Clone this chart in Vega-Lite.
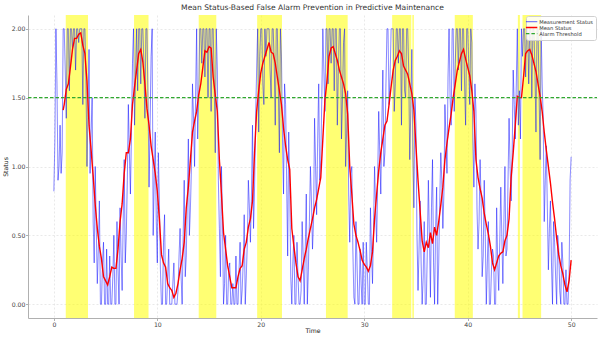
{
"$schema":"https://vega.github.io/schema/vega-lite/v6.json",
"width":569,"height":303,
"autosize":{"type":"none"},
"padding":{"left":28,"top":15,"right":4,"bottom":23},
"background":"white",
"title":{"text":"Mean Status-Based False Alarm Prevention in Predictive Maintenance","fontSize":7.6,"fontWeight":"normal","color":"#333333","offset":3,"anchor":"middle","font":"DejaVu Sans"},
"config":{"font":"DejaVu Sans","view":{"stroke":null},
 "axis":{"domainColor":"#b0b0b0","tickColor":"#b0b0b0","tickSize":2.5,"labelFontSize":6.2,"labelColor":"#444444","titleFontSize":6.2,"titleFontWeight":"normal","titleColor":"#222222","gridColor":"#e0e0e0","gridDash":[2,2],"gridWidth":0.7,"labelPadding":0.5},
 "legend":{"orient":"top-right","offset":1,"labelFontSize":5.2,"labelColor":"#333333","fillColor":"rgba(255,255,255,0.85)","strokeColor":"#d0d0d0","padding":3,"cornerRadius":2,"symbolSize":130,"rowPadding":-4,"labelOffset":5,"symbolType":"stroke",
  "symbolOpacity":{"expr":"datum.value == 'Measurement Status' ? 0.5 : 1"},
  "symbolStrokeWidth":{"expr":"datum.value == 'Mean Status' ? 1.5 : 1.1"}}},
"datasets":{
"sp":[{"a":1.15,"b":3.3},{"a":7.75,"b":9.15},{"a":14.0,"b":15.7},{"a":19.65,"b":22.05},{"a":26.3,"b":28.4},{"a":32.7,"b":34.55},{"a":34.65,"b":34.8},{"a":38.75,"b":40.5},{"a":44.85,"b":45.05},{"a":45.3,"b":47.1}],
"th":[{"t":-2.5,"v":1.5},{"t":52.5,"v":1.5}],
"m":[{"t":0.0,"v":0.82},{"t":0.1,"v":1.2},{"t":0.2,"v":2.0},{"t":0.3,"v":1.6},{"t":0.4,"v":0.9},{"t":0.5,"v":1.0},{"t":0.6,"v":1.3},{"t":0.7,"v":0.95},{"t":0.8,"v":1.1},{"t":0.9,"v":2.0},
{"t":1.0,"v":2.0},{"t":1.1,"v":1.7},{"t":1.2,"v":1.35},{"t":1.3,"v":2.0},{"t":1.4,"v":2.0},{"t":1.5,"v":1.55},{"t":1.6,"v":2.0},{"t":1.7,"v":2.0},{"t":1.8,"v":1.85},{"t":1.9,"v":2.0},
{"t":2.0,"v":2.0},{"t":2.1,"v":1.7},{"t":2.2,"v":2.0},{"t":2.3,"v":2.0},{"t":2.4,"v":1.9},{"t":2.5,"v":2.0},{"t":2.6,"v":2.0},{"t":2.7,"v":2.0},{"t":2.8,"v":1.45},{"t":2.9,"v":2.0},
{"t":3.0,"v":2.0},{"t":3.1,"v":1.65},{"t":3.2,"v":1.0},{"t":3.3,"v":1.4},{"t":3.4,"v":1.85},{"t":3.5,"v":0.95},{"t":3.6,"v":1.25},{"t":3.7,"v":1.5},{"t":3.8,"v":0.6},{"t":3.9,"v":0.3},
{"t":4.0,"v":1.0},{"t":4.1,"v":0.55},{"t":4.2,"v":0.15},{"t":4.3,"v":0.4},{"t":4.4,"v":0.75},{"t":4.5,"v":0.0},{"t":4.6,"v":0.0},{"t":4.7,"v":0.3},{"t":4.8,"v":0.45},{"t":4.9,"v":0.0},
{"t":5.0,"v":0.0},{"t":5.1,"v":0.4},{"t":5.2,"v":0.0},{"t":5.3,"v":0.0},{"t":5.4,"v":0.35},{"t":5.5,"v":0.0},{"t":5.6,"v":0.0},{"t":5.7,"v":0.2},{"t":5.8,"v":0.5},{"t":5.9,"v":0.0},
{"t":6.0,"v":0.0},{"t":6.1,"v":0.6},{"t":6.2,"v":0.25},{"t":6.3,"v":0.0},{"t":6.4,"v":0.7},{"t":6.5,"v":0.35},{"t":6.6,"v":0.1},{"t":6.7,"v":0.6},{"t":6.8,"v":1.05},{"t":6.9,"v":0.3},
{"t":7.0,"v":0.5},{"t":7.1,"v":0.9},{"t":7.2,"v":1.45},{"t":7.3,"v":1.1},{"t":7.4,"v":0.8},{"t":7.5,"v":1.25},{"t":7.6,"v":1.75},{"t":7.7,"v":2.0},{"t":7.8,"v":1.3},{"t":7.9,"v":1.7},
{"t":8.0,"v":2.0},{"t":8.1,"v":1.55},{"t":8.2,"v":2.0},{"t":8.3,"v":2.0},{"t":8.4,"v":1.6},{"t":8.5,"v":2.0},{"t":8.6,"v":2.0},{"t":8.7,"v":1.75},{"t":8.8,"v":1.35},{"t":8.9,"v":2.0},
{"t":9.0,"v":2.0},{"t":9.1,"v":1.5},{"t":9.2,"v":0.85},{"t":9.3,"v":1.3},{"t":9.4,"v":1.8},{"t":9.5,"v":2.0},{"t":9.6,"v":0.5},{"t":9.7,"v":0.9},{"t":9.8,"v":1.25},{"t":9.9,"v":0.6},
{"t":10.0,"v":0.3},{"t":10.1,"v":1.1},{"t":10.2,"v":0.75},{"t":10.3,"v":0.25},{"t":10.4,"v":0.0},{"t":10.5,"v":0.0},{"t":10.6,"v":0.45},{"t":10.7,"v":0.65},{"t":10.8,"v":0.0},{"t":10.9,"v":0.0},
{"t":11.0,"v":0.2},{"t":11.1,"v":0.4},{"t":11.2,"v":0.0},{"t":11.3,"v":0.0},{"t":11.4,"v":0.0},{"t":11.5,"v":0.15},{"t":11.6,"v":0.3},{"t":11.7,"v":0.0},{"t":11.8,"v":0.0},{"t":11.9,"v":0.0},
{"t":12.0,"v":0.1},{"t":12.1,"v":0.35},{"t":12.2,"v":0.55},{"t":12.3,"v":0.2},{"t":12.4,"v":0.0},{"t":12.5,"v":0.5},{"t":12.6,"v":0.9},{"t":12.7,"v":0.2},{"t":12.8,"v":0.35},{"t":12.9,"v":0.75},
{"t":13.0,"v":1.2},{"t":13.1,"v":0.5},{"t":13.2,"v":0.7},{"t":13.3,"v":1.0},{"t":13.4,"v":1.6},{"t":13.5,"v":1.35},{"t":13.6,"v":1.0},{"t":13.7,"v":1.5},{"t":13.8,"v":2.0},{"t":13.9,"v":1.2},
{"t":14.0,"v":1.5},{"t":14.1,"v":2.0},{"t":14.2,"v":2.0},{"t":14.3,"v":1.75},{"t":14.4,"v":2.0},{"t":14.5,"v":2.0},{"t":14.6,"v":1.65},{"t":14.7,"v":2.0},{"t":14.8,"v":2.0},{"t":14.9,"v":1.5},
{"t":15.0,"v":2.0},{"t":15.1,"v":2.0},{"t":15.2,"v":1.4},{"t":15.3,"v":2.0},{"t":15.4,"v":2.0},{"t":15.5,"v":1.6},{"t":15.6,"v":1.1},{"t":15.7,"v":2.0},{"t":15.8,"v":1.7},{"t":15.9,"v":0.9},
{"t":16.0,"v":0.55},{"t":16.1,"v":0.2},{"t":16.2,"v":1.0},{"t":16.3,"v":0.6},{"t":16.4,"v":0.0},{"t":16.5,"v":0.15},{"t":16.6,"v":0.5},{"t":16.7,"v":0.0},{"t":16.8,"v":0.0},{"t":16.9,"v":0.25},
{"t":17.0,"v":0.3},{"t":17.1,"v":0.0},{"t":17.2,"v":0.0},{"t":17.3,"v":0.15},{"t":17.4,"v":0.0},{"t":17.5,"v":0.0},{"t":17.6,"v":0.35},{"t":17.7,"v":0.0},{"t":17.8,"v":0.0},{"t":17.9,"v":0.25},
{"t":18.0,"v":0.45},{"t":18.1,"v":0.0},{"t":18.2,"v":0.1},{"t":18.3,"v":0.3},{"t":18.4,"v":0.65},{"t":18.5,"v":0.0},{"t":18.6,"v":0.2},{"t":18.7,"v":0.45},{"t":18.8,"v":0.9},{"t":18.9,"v":0.7},
{"t":19.0,"v":0.45},{"t":19.1,"v":0.8},{"t":19.2,"v":1.3},{"t":19.3,"v":0.55},{"t":19.4,"v":0.85},{"t":19.5,"v":1.35},{"t":19.6,"v":1.7},{"t":19.7,"v":2.0},{"t":19.8,"v":1.25},{"t":19.9,"v":1.8},
{"t":20.0,"v":2.0},{"t":20.1,"v":2.0},{"t":20.2,"v":1.6},{"t":20.3,"v":1.45},{"t":20.4,"v":2.0},{"t":20.5,"v":1.8},{"t":20.6,"v":2.0},{"t":20.7,"v":2.0},{"t":20.8,"v":2.0},{"t":20.9,"v":1.7},
{"t":21.0,"v":1.5},{"t":21.1,"v":2.0},{"t":21.2,"v":2.0},{"t":21.3,"v":1.75},{"t":21.4,"v":1.3},{"t":21.5,"v":2.0},{"t":21.6,"v":2.0},{"t":21.7,"v":1.55},{"t":21.8,"v":1.1},{"t":21.9,"v":2.0},
{"t":22.0,"v":1.8},{"t":22.1,"v":1.2},{"t":22.2,"v":0.8},{"t":22.3,"v":1.6},{"t":22.4,"v":1.45},{"t":22.5,"v":0.9},{"t":22.6,"v":0.35},{"t":22.7,"v":1.25},{"t":22.8,"v":0.85},{"t":22.9,"v":0.2},
{"t":23.0,"v":0.0},{"t":23.1,"v":0.3},{"t":23.2,"v":0.5},{"t":23.3,"v":0.0},{"t":23.4,"v":0.0},{"t":23.5,"v":0.45},{"t":23.6,"v":0.2},{"t":23.7,"v":0.0},{"t":23.8,"v":0.0},{"t":23.9,"v":0.1},
{"t":24.0,"v":0.6},{"t":24.1,"v":0.35},{"t":24.2,"v":0.0},{"t":24.3,"v":0.4},{"t":24.4,"v":0.8},{"t":24.5,"v":0.0},{"t":24.6,"v":0.25},{"t":24.7,"v":0.6},{"t":24.8,"v":1.0},{"t":24.9,"v":0.75},
{"t":25.0,"v":0.4},{"t":25.1,"v":0.6},{"t":25.2,"v":1.35},{"t":25.3,"v":1.0},{"t":25.4,"v":0.65},{"t":25.5,"v":1.2},{"t":25.6,"v":1.6},{"t":25.7,"v":0.9},{"t":25.8,"v":1.05},{"t":25.9,"v":1.5},
{"t":26.0,"v":2.0},{"t":26.1,"v":1.7},{"t":26.2,"v":1.4},{"t":26.3,"v":2.0},{"t":26.4,"v":2.0},{"t":26.5,"v":1.6},{"t":26.6,"v":2.0},{"t":26.7,"v":2.0},{"t":26.8,"v":1.75},{"t":26.9,"v":2.0},
{"t":27.0,"v":2.0},{"t":27.1,"v":1.55},{"t":27.2,"v":2.0},{"t":27.3,"v":2.0},{"t":27.4,"v":1.3},{"t":27.5,"v":1.7},{"t":27.6,"v":2.0},{"t":27.7,"v":2.0},{"t":27.8,"v":1.2},{"t":27.9,"v":1.5},
{"t":28.0,"v":1.9},{"t":28.1,"v":2.0},{"t":28.2,"v":1.0},{"t":28.3,"v":1.25},{"t":28.4,"v":1.55},{"t":28.5,"v":0.8},{"t":28.6,"v":0.45},{"t":28.7,"v":0.95},{"t":28.8,"v":1.0},{"t":28.9,"v":0.4},
{"t":29.0,"v":0.05},{"t":29.1,"v":0.0},{"t":29.2,"v":0.6},{"t":29.3,"v":0.3},{"t":29.4,"v":0.0},{"t":29.5,"v":0.0},{"t":29.6,"v":0.4},{"t":29.7,"v":0.15},{"t":29.8,"v":0.0},{"t":29.9,"v":0.45},
{"t":30.0,"v":0.0},{"t":30.1,"v":0.0},{"t":30.2,"v":0.45},{"t":30.3,"v":0.25},{"t":30.4,"v":0.0},{"t":30.5,"v":0.0},{"t":30.6,"v":0.7},{"t":30.7,"v":0.4},{"t":30.8,"v":0.15},{"t":30.9,"v":0.55},
{"t":31.0,"v":1.0},{"t":31.1,"v":0.7},{"t":31.2,"v":0.45},{"t":31.3,"v":0.9},{"t":31.4,"v":1.4},{"t":31.5,"v":1.1},{"t":31.6,"v":0.8},{"t":31.7,"v":1.3},{"t":31.8,"v":1.7},{"t":31.9,"v":1.0},
{"t":32.0,"v":1.1},{"t":32.1,"v":1.6},{"t":32.2,"v":2.0},{"t":32.3,"v":2.0},{"t":32.4,"v":1.45},{"t":32.5,"v":1.65},{"t":32.6,"v":2.0},{"t":32.7,"v":2.0},{"t":32.8,"v":2.0},{"t":32.9,"v":1.4},
{"t":33.0,"v":1.6},{"t":33.1,"v":2.0},{"t":33.2,"v":2.0},{"t":33.3,"v":1.75},{"t":33.4,"v":2.0},{"t":33.5,"v":2.0},{"t":33.6,"v":1.3},{"t":33.7,"v":2.0},{"t":33.8,"v":2.0},{"t":33.9,"v":1.55},
{"t":34.0,"v":1.5},{"t":34.1,"v":2.0},{"t":34.2,"v":2.0},{"t":34.3,"v":1.7},{"t":34.4,"v":1.05},{"t":34.5,"v":1.4},{"t":34.6,"v":1.85},{"t":34.7,"v":1.1},{"t":34.8,"v":0.7},{"t":34.9,"v":1.5},
{"t":35.0,"v":1.3},{"t":35.1,"v":0.5},{"t":35.2,"v":0.1},{"t":35.3,"v":0.4},{"t":35.4,"v":0.75},{"t":35.5,"v":0.3},{"t":35.6,"v":0.0},{"t":35.7,"v":0.2},{"t":35.8,"v":0.6},{"t":35.9,"v":0.0},
{"t":36.0,"v":0.0},{"t":36.1,"v":0.4},{"t":36.2,"v":0.9},{"t":36.3,"v":0.5},{"t":36.4,"v":0.05},{"t":36.5,"v":0.7},{"t":36.6,"v":1.05},{"t":36.7,"v":0.3},{"t":36.8,"v":0.0},{"t":36.9,"v":0.55},
{"t":37.0,"v":0.85},{"t":37.1,"v":0.0},{"t":37.2,"v":0.3},{"t":37.3,"v":0.75},{"t":37.4,"v":1.1},{"t":37.5,"v":0.9},{"t":37.6,"v":0.55},{"t":37.7,"v":0.8},{"t":37.8,"v":1.45},{"t":37.9,"v":1.2},
{"t":38.0,"v":0.95},{"t":38.1,"v":1.65},{"t":38.2,"v":2.0},{"t":38.3,"v":1.5},{"t":38.4,"v":1.3},{"t":38.5,"v":2.0},{"t":38.6,"v":2.0},{"t":38.7,"v":1.4},{"t":38.8,"v":1.75},{"t":38.9,"v":2.0},
{"t":39.0,"v":2.0},{"t":39.1,"v":1.7},{"t":39.2,"v":2.0},{"t":39.3,"v":2.0},{"t":39.4,"v":1.55},{"t":39.5,"v":2.0},{"t":39.6,"v":2.0},{"t":39.7,"v":1.6},{"t":39.8,"v":1.3},{"t":39.9,"v":2.0},
{"t":40.0,"v":2.0},{"t":40.1,"v":1.75},{"t":40.2,"v":1.45},{"t":40.3,"v":2.0},{"t":40.4,"v":1.9},{"t":40.5,"v":1.2},{"t":40.6,"v":0.85},{"t":40.7,"v":1.6},{"t":40.8,"v":1.4},{"t":40.9,"v":0.7},
{"t":41.0,"v":0.4},{"t":41.1,"v":0.6},{"t":41.2,"v":1.05},{"t":41.3,"v":0.75},{"t":41.4,"v":0.2},{"t":41.5,"v":0.35},{"t":41.6,"v":0.9},{"t":41.7,"v":0.5},{"t":41.8,"v":0.0},{"t":41.9,"v":0.3},
{"t":42.0,"v":0.6},{"t":42.1,"v":0.0},{"t":42.2,"v":0.0},{"t":42.3,"v":0.25},{"t":42.4,"v":0.4},{"t":42.5,"v":0.35},{"t":42.6,"v":0.0},{"t":42.7,"v":0.0},{"t":42.8,"v":0.7},{"t":42.9,"v":0.3},
{"t":43.0,"v":0.1},{"t":43.1,"v":0.45},{"t":43.2,"v":0.85},{"t":43.3,"v":0.5},{"t":43.4,"v":0.15},{"t":43.5,"v":0.6},{"t":43.6,"v":1.0},{"t":43.7,"v":0.35},{"t":43.8,"v":0.4},{"t":43.9,"v":0.9},
{"t":44.0,"v":1.35},{"t":44.1,"v":1.0},{"t":44.2,"v":0.75},{"t":44.3,"v":1.1},{"t":44.4,"v":1.7},{"t":44.5,"v":1.45},{"t":44.6,"v":1.2},{"t":44.7,"v":1.6},{"t":44.8,"v":2.0},{"t":44.9,"v":1.3},
{"t":45.0,"v":1.55},{"t":45.1,"v":1.2},{"t":45.2,"v":2.0},{"t":45.3,"v":1.8},{"t":45.4,"v":2.0},{"t":45.5,"v":2.0},{"t":45.6,"v":1.65},{"t":45.7,"v":2.0},{"t":45.8,"v":2.0},{"t":45.9,"v":1.6},
{"t":46.0,"v":2.0},{"t":46.1,"v":2.0},{"t":46.2,"v":1.5},{"t":46.3,"v":2.0},{"t":46.4,"v":2.0},{"t":46.5,"v":1.7},{"t":46.6,"v":1.25},{"t":46.7,"v":2.0},{"t":46.8,"v":2.0},{"t":46.9,"v":1.55},
{"t":47.0,"v":1.05},{"t":47.1,"v":2.0},{"t":47.2,"v":1.6},{"t":47.3,"v":1.35},{"t":47.4,"v":0.6},{"t":47.5,"v":0.9},{"t":47.6,"v":1.15},{"t":47.7,"v":0.7},{"t":47.8,"v":0.25},{"t":47.9,"v":0.55},
{"t":48.0,"v":0.75},{"t":48.1,"v":0.3},{"t":48.2,"v":0.0},{"t":48.3,"v":0.6},{"t":48.4,"v":0.45},{"t":48.5,"v":0.2},{"t":48.6,"v":0.0},{"t":48.7,"v":0.5},{"t":48.8,"v":0.4},{"t":48.9,"v":0.1},
{"t":49.0,"v":0.0},{"t":49.1,"v":0.45},{"t":49.2,"v":0.3},{"t":49.3,"v":0.0},{"t":49.4,"v":0.0},{"t":49.5,"v":0.25},{"t":49.6,"v":0.0},{"t":49.7,"v":0.0},{"t":49.8,"v":0.2},{"t":49.9,"v":0.9},
{"t":50.0,"v":1.07}],
"a":[{"t":0.9,"v":1.41},{"t":1.0,"v":1.45},{"t":1.2,"v":1.56},{"t":1.4,"v":1.6},{"t":1.6,"v":1.72},{"t":1.8,"v":1.85},{"t":2.0,"v":1.93},{"t":2.2,"v":1.93},{"t":2.4,"v":1.96},{"t":2.6,"v":1.97},{"t":2.8,"v":1.88},{"t":3.0,"v":1.82},{"t":3.2,"v":1.62},{"t":3.4,"v":1.3},{"t":3.6,"v":1.12},{"t":3.8,"v":0.93},{"t":4.0,"v":0.72},{"t":4.2,"v":0.55},{"t":4.4,"v":0.42},{"t":4.6,"v":0.33},{"t":4.8,"v":0.2},{"t":5.0,"v":0.17},{"t":5.2,"v":0.14},{"t":5.4,"v":0.2},{"t":5.6,"v":0.27},{"t":5.8,"v":0.26},{"t":6.0,"v":0.26},{"t":6.2,"v":0.4},{"t":6.4,"v":0.6},{"t":6.6,"v":0.73},{"t":6.8,"v":0.95},{"t":7.0,"v":1.1},{"t":7.2,"v":1.1},{"t":7.4,"v":1.2},{"t":7.6,"v":1.45},{"t":7.8,"v":1.58},{"t":8.0,"v":1.7},{"t":8.2,"v":1.82},{"t":8.4,"v":1.85},{"t":8.6,"v":1.76},{"t":8.8,"v":1.6},{"t":9.0,"v":1.42},{"t":9.2,"v":1.3},{"t":9.4,"v":1.15},{"t":9.6,"v":1.05},{"t":9.8,"v":0.95},{"t":10.0,"v":0.82},{"t":10.2,"v":0.62},{"t":10.4,"v":0.36},{"t":10.6,"v":0.3},{"t":10.8,"v":0.27},{"t":11.0,"v":0.15},{"t":11.2,"v":0.12},{"t":11.4,"v":0.1},{"t":11.6,"v":0.05},{"t":11.8,"v":0.08},{"t":12.0,"v":0.15},{"t":12.2,"v":0.25},{"t":12.4,"v":0.33},{"t":12.6,"v":0.45},{"t":12.8,"v":0.7},{"t":13.0,"v":0.85},{"t":13.2,"v":1.05},{"t":13.4,"v":1.25},{"t":13.6,"v":1.33},{"t":13.8,"v":1.4},{"t":14.0,"v":1.52},{"t":14.2,"v":1.6},{"t":14.4,"v":1.72},{"t":14.6,"v":1.84},{"t":14.8,"v":1.83},{"t":15.0,"v":1.87},{"t":15.2,"v":1.86},{"t":15.4,"v":1.65},{"t":15.6,"v":1.52},{"t":15.8,"v":1.4},{"t":16.0,"v":1.05},{"t":16.2,"v":0.8},{"t":16.4,"v":0.52},{"t":16.6,"v":0.4},{"t":16.8,"v":0.28},{"t":17.0,"v":0.2},{"t":17.2,"v":0.12},{"t":17.4,"v":0.12},{"t":17.6,"v":0.12},{"t":17.8,"v":0.2},{"t":18.0,"v":0.26},{"t":18.2,"v":0.28},{"t":18.4,"v":0.4},{"t":18.6,"v":0.45},{"t":18.8,"v":0.56},{"t":19.0,"v":0.62},{"t":19.2,"v":0.75},{"t":19.4,"v":1.1},{"t":19.6,"v":1.4},{"t":19.8,"v":1.55},{"t":20.0,"v":1.68},{"t":20.2,"v":1.75},{"t":20.4,"v":1.8},{"t":20.6,"v":1.85},{"t":20.8,"v":1.9},{"t":21.0,"v":1.83},{"t":21.2,"v":1.82},{"t":21.4,"v":1.75},{"t":21.6,"v":1.65},{"t":21.8,"v":1.55},{"t":22.0,"v":1.45},{"t":22.2,"v":1.28},{"t":22.4,"v":1.15},{"t":22.6,"v":1.05},{"t":22.8,"v":0.98},{"t":23.0,"v":0.55},{"t":23.2,"v":0.42},{"t":23.4,"v":0.3},{"t":23.6,"v":0.2},{"t":23.8,"v":0.17},{"t":24.0,"v":0.25},{"t":24.2,"v":0.33},{"t":24.4,"v":0.4},{"t":24.6,"v":0.48},{"t":24.8,"v":0.55},{"t":25.0,"v":0.62},{"t":25.2,"v":0.7},{"t":25.4,"v":0.76},{"t":25.6,"v":0.84},{"t":25.8,"v":0.92},{"t":26.0,"v":1.2},{"t":26.2,"v":1.48},{"t":26.4,"v":1.62},{"t":26.6,"v":1.8},{"t":26.8,"v":1.86},{"t":27.0,"v":1.87},{"t":27.2,"v":1.82},{"t":27.4,"v":1.77},{"t":27.6,"v":1.7},{"t":27.8,"v":1.65},{"t":28.0,"v":1.6},{"t":28.2,"v":1.53},{"t":28.4,"v":1.38},{"t":28.6,"v":1.0},{"t":28.8,"v":0.8},{"t":29.0,"v":0.58},{"t":29.2,"v":0.5},{"t":29.4,"v":0.45},{"t":29.6,"v":0.39},{"t":29.8,"v":0.32},{"t":30.0,"v":0.29},{"t":30.2,"v":0.27},{"t":30.4,"v":0.24},{"t":30.6,"v":0.28},{"t":30.8,"v":0.38},{"t":31.0,"v":0.62},{"t":31.2,"v":0.8},{"t":31.4,"v":0.97},{"t":31.6,"v":1.1},{"t":31.8,"v":1.2},{"t":32.0,"v":1.3},{"t":32.2,"v":1.33},{"t":32.4,"v":1.45},{"t":32.6,"v":1.58},{"t":32.8,"v":1.7},{"t":33.0,"v":1.77},{"t":33.2,"v":1.8},{"t":33.4,"v":1.84},{"t":33.6,"v":1.82},{"t":33.8,"v":1.73},{"t":34.0,"v":1.7},{"t":34.2,"v":1.67},{"t":34.4,"v":1.6},{"t":34.6,"v":1.53},{"t":34.8,"v":1.41},{"t":35.0,"v":1.15},{"t":35.2,"v":0.9},{"t":35.4,"v":0.68},{"t":35.6,"v":0.46},{"t":35.8,"v":0.38},{"t":36.0,"v":0.45},{"t":36.2,"v":0.41},{"t":36.4,"v":0.52},{"t":36.6,"v":0.44},{"t":36.8,"v":0.56},{"t":37.0,"v":0.5},{"t":37.2,"v":0.6},{"t":37.4,"v":0.72},{"t":37.6,"v":0.85},{"t":37.8,"v":1.05},{"t":38.0,"v":1.17},{"t":38.2,"v":1.28},{"t":38.4,"v":1.38},{"t":38.6,"v":1.5},{"t":38.8,"v":1.6},{"t":39.0,"v":1.7},{"t":39.2,"v":1.76},{"t":39.4,"v":1.82},{"t":39.6,"v":1.85},{"t":39.8,"v":1.78},{"t":40.0,"v":1.72},{"t":40.2,"v":1.66},{"t":40.4,"v":1.55},{"t":40.6,"v":1.4},{"t":40.8,"v":1.05},{"t":41.0,"v":0.92},{"t":41.2,"v":0.84},{"t":41.4,"v":0.77},{"t":41.6,"v":0.66},{"t":41.8,"v":0.58},{"t":42.0,"v":0.51},{"t":42.2,"v":0.42},{"t":42.4,"v":0.3},{"t":42.6,"v":0.25},{"t":42.8,"v":0.3},{"t":43.0,"v":0.35},{"t":43.2,"v":0.37},{"t":43.4,"v":0.38},{"t":43.6,"v":0.46},{"t":43.8,"v":0.5},{"t":44.0,"v":0.62},{"t":44.2,"v":0.92},{"t":44.4,"v":1.1},{"t":44.6,"v":1.3},{"t":44.8,"v":1.51},{"t":45.0,"v":1.5},{"t":45.2,"v":1.5},{"t":45.4,"v":1.65},{"t":45.6,"v":1.82},{"t":45.8,"v":1.84},{"t":46.0,"v":1.85},{"t":46.2,"v":1.81},{"t":46.4,"v":1.75},{"t":46.6,"v":1.69},{"t":46.8,"v":1.6},{"t":47.0,"v":1.51},{"t":47.2,"v":1.4},{"t":47.4,"v":1.25},{"t":47.6,"v":1.12},{"t":47.8,"v":1.0},{"t":48.0,"v":0.88},{"t":48.2,"v":0.74},{"t":48.4,"v":0.62},{"t":48.6,"v":0.48},{"t":48.8,"v":0.36},{"t":49.0,"v":0.28},{"t":49.2,"v":0.22},{"t":49.4,"v":0.14},{"t":49.6,"v":0.09},{"t":49.8,"v":0.17},{"t":50.0,"v":0.32}]
},
"layer":[
{"data":{"name":"sp"},"mark":{"type":"rect","color":"#ffff00","opacity":0.55},
 "encoding":{"x":{"field":"a","type":"quantitative","scale":{"domain":[-2.5,52.5],"nice":false,"zero":false},"title":"Time"},"x2":{"field":"b"}}},
{"data":{"name":"m"},"mark":{"type":"line","strokeWidth":1,"opacity":0.5},
 "encoding":{
  "x":{"field":"t","type":"quantitative","title":"Time","axis":{"values":[0,10,20,30,40,50],"titlePadding":0}},
  "y":{"field":"v","type":"quantitative","title":"Status","scale":{"domain":[-0.1,2.1],"nice":false,"zero":false},"axis":{"values":[0,0.25,0.5,0.75,1,1.25,1.5,1.75,2],"format":".2f","titlePadding":3}},
  "color":{"datum":"Measurement Status","scale":{"domain":["Measurement Status","Mean Status","Alarm Threshold"],"range":["#0000ff","#ff0000","#30a830"]},"legend":{"title":null}},
  "strokeDash":{"datum":"Measurement Status","scale":{"domain":["Measurement Status","Mean Status","Alarm Threshold"],"range":[[1,0],[1,0],[3.5,2]]},"legend":{"title":null}}
 }},
{"data":{"name":"a"},"mark":{"type":"line","strokeWidth":1.4},
 "encoding":{
  "x":{"field":"t","type":"quantitative","title":"Time"},
  "y":{"field":"v","type":"quantitative","title":"Status"},
  "color":{"datum":"Mean Status","legend":{"title":null}},
  "strokeDash":{"datum":"Mean Status","legend":{"title":null}}
 }},
{"data":{"name":"th"},"mark":{"type":"line","strokeWidth":1.2},
 "encoding":{
  "x":{"field":"t","type":"quantitative","title":"Time"},
  "y":{"field":"v","type":"quantitative","title":"Status"},
  "color":{"datum":"Alarm Threshold","legend":{"title":null}},
  "strokeDash":{"datum":"Alarm Threshold","legend":{"title":null}}
 }}
]
}
